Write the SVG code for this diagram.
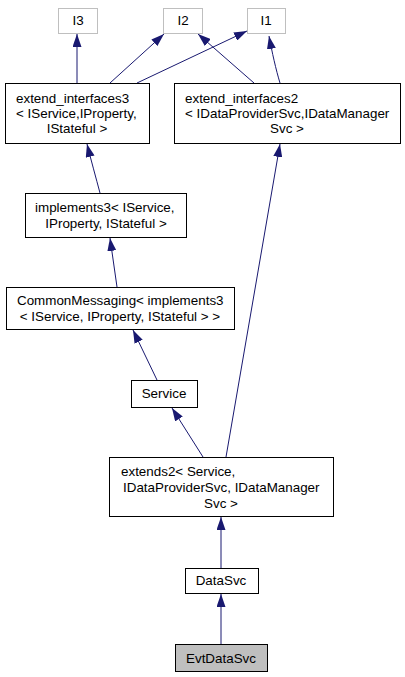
<svg xmlns="http://www.w3.org/2000/svg" width="405" height="677" viewBox="0 0 405 677">
<style>
.n{fill:#fff;stroke:#000;stroke-width:1}
.g{fill:#fff;stroke:#bfbfbf;stroke-width:1}
.h{fill:#bfbfbf;stroke:#000;stroke-width:1}
text{font-family:"Liberation Sans",Arial,sans-serif;font-size:13.4px;fill:#000}
.m{text-anchor:middle}
.e{fill:none;stroke:#191970;stroke-width:1}
</style>
<defs>
<marker id="a" viewBox="0 0 13 9" refX="13" refY="4.5" markerWidth="13" markerHeight="9" markerUnits="userSpaceOnUse" orient="auto">
<path d="M0,0L13,4.5L0,9Z" fill="#191970"/>
</marker>
</defs>
<rect width="405" height="677" fill="#fff"/>
<g id="edges">
<path class="e" d="M77,83L77,34" marker-end="url(#a)"/>
<path class="e" d="M110,83L164,34" marker-end="url(#a)"/>
<path class="e" d="M137,83L247,31" marker-end="url(#a)"/>
<path class="e" d="M254,83L198,34" marker-end="url(#a)"/>
<path class="e" d="M280,83C276,70 272,52 269,36" marker-end="url(#a)"/>
<path class="e" d="M100,193C96,178 91,160 87,144" marker-end="url(#a)"/>
<path class="e" d="M117,287L110,238" marker-end="url(#a)"/>
<path class="e" d="M157,380L133,330" marker-end="url(#a)"/>
<path class="e" d="M203,457L172,408" marker-end="url(#a)"/>
<path class="e" d="M226,457L280,144" marker-end="url(#a)"/>
<path class="e" d="M221,568L221,517" marker-end="url(#a)"/>
<path class="e" d="M221,644L221,594" marker-end="url(#a)"/>
</g>
<g id="I3"><rect class="g" x="58.5" y="8.5" width="39" height="25"/><text class="m" x="78" y="25">I3</text></g>
<g id="I2"><rect class="g" x="163.5" y="8.5" width="39" height="25"/><text class="m" x="183" y="25">I2</text></g>
<g id="I1"><rect class="g" x="247.5" y="8.5" width="38" height="25"/><text class="m" x="266" y="25">I1</text></g>
<g id="extend_interfaces3"><rect class="n" x="5.5" y="83.5" width="144" height="60"/>
<text x="16" y="102.5">extend_interfaces3</text>
<text x="16" y="117.5">&lt; IService,IProperty,</text>
<text class="m" x="77" y="132.5">IStateful &gt;</text></g>
<g id="extend_interfaces2"><rect class="n" x="174.5" y="83.5" width="226" height="60"/>
<text x="185" y="102.5">extend_interfaces2</text>
<text x="185" y="117.5">&lt; IDataProviderSvc,IDataManager</text>
<text class="m" x="287" y="132.5">Svc &gt;</text></g>
<g id="implements3"><rect class="n" x="25.5" y="193.5" width="161" height="44"/>
<text x="35" y="211.5">implements3&lt; IService,</text>
<text class="m" x="106" y="227.5">IProperty, IStateful &gt;</text></g>
<g id="CommonMessaging"><rect class="n" x="6.5" y="287.5" width="228" height="42"/>
<text x="17" y="304.5">CommonMessaging&lt; implements3</text>
<text class="m" x="120" y="320.5">&lt; IService, IProperty, IStateful &gt; &gt;</text></g>
<g id="Service"><rect class="n" x="131.5" y="380.5" width="66" height="27"/>
<text class="m" x="164" y="398">Service</text></g>
<g id="extends2"><rect class="n" x="109.5" y="457.5" width="224" height="59"/>
<text x="121" y="475.5">extends2&lt; Service,</text>
<text x="123" y="491.5">IDataProviderSvc, IDataManager</text>
<text class="m" x="221" y="507.5">Svc &gt;</text></g>
<g id="DataSvc"><rect class="n" x="185.5" y="568.5" width="73" height="25"/>
<text class="m" x="221" y="585">DataSvc</text></g>
<g id="EvtDataSvc"><rect class="h" x="175.5" y="644.5" width="92" height="27"/>
<text class="m" x="221" y="662.5">EvtDataSvc</text></g>
</svg>
